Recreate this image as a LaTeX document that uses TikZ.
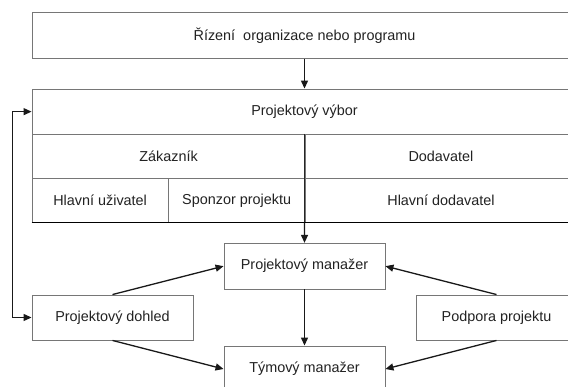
\documentclass[tikz,border=0pt]{standalone}
\usepackage{fontspec}
\setmainfont{Liberation Sans}
\usetikzlibrary{arrows.meta}
\definecolor{frame}{RGB}{118,118,118}
\definecolor{ink}{RGB}{34,34,34}
\begin{document}
\begin{tikzpicture}[x=1pt,y=-1pt,
  cell/.style={draw=frame,line width=0.9pt,rectangle,inner sep=0pt,
    text=ink,font=\fontsize{14.4}{17}\selectfont},
  link/.style={draw=black!90,line width=1.3pt,
    -{Triangle[length=8pt,width=7pt]}},
  link2/.style={draw=black!90,line width=1.2pt,
    {Triangle[length=8pt,width=7pt]}-{Triangle[length=8pt,width=7pt]}}]
\clip (0,0) rectangle (568,387);
\fill[white] (0,0) rectangle (568,387);

% governance level
\node[cell,minimum width=545pt,minimum height=45.6pt] (top) at (304.5,35.5)
  {Řízení\ \ organizace nebo programu};

% project board table
\node[cell,minimum width=545pt,minimum height=45.3pt] (pvt) at (304.5,111.65)
  {Projektový výbor};
\node[cell,minimum width=273pt,minimum height=44pt] (zak) at (168.5,156.3)
  {Zákazník};
\node[cell,minimum width=272pt,minimum height=44pt] (dod) at (441,156.3)
  {Dodavatel};
\node[cell,minimum width=136.3pt,minimum height=44pt] (hu) at (100.15,200.3)
  {Hlavní uživatel};
\node[cell,minimum width=136.7pt,minimum height=44pt] (sp) at (236.65,200.3)
  {Sponzor projektu};
\node[cell,minimum width=272pt,minimum height=44pt] (hd) at (441,200.3)
  {Hlavní dodavatel};
\draw[black!85,line width=1pt] (dod.north west) -- (hd.south west);
\draw[black,line width=1pt] (hu.south west) -- (hd.south east);

% management level
\node[cell,minimum width=161pt,minimum height=45.7pt] (pm) at (304.5,266.15)
  {Projektový manažer};
\node[cell,minimum width=161pt,minimum height=45pt] (pd) at (112.5,317.5)
  {Projektový dohled};
\node[cell,minimum width=161pt,minimum height=45pt] (ps) at (496.5,317.5)
  {Podpora projektu};
\node[cell,minimum width=161pt,minimum height=46pt] (tm) at (304.5,369)
  {Týmový manažer};

% connectors
\draw[link] (top.south) -- (pvt.north);
\draw[link] (hd.south west) -- (pm.north);
\draw[link] (pm.south) -- (tm.north);
\draw[link] (pd.north) -- (pm.west);
\draw[link] (ps.north) -- (pm.east);
\draw[link] (pd.south) -- (tm.west);
\draw[link] (ps.south) -- (tm.east);

% feedback loop on the left
\coordinate (fb) at (12.3,0);
\draw[link2] (pvt.west) -- (pvt.west -| fb) -- (pd.west -| fb) -- (pd.west);
\end{tikzpicture}
\end{document}
